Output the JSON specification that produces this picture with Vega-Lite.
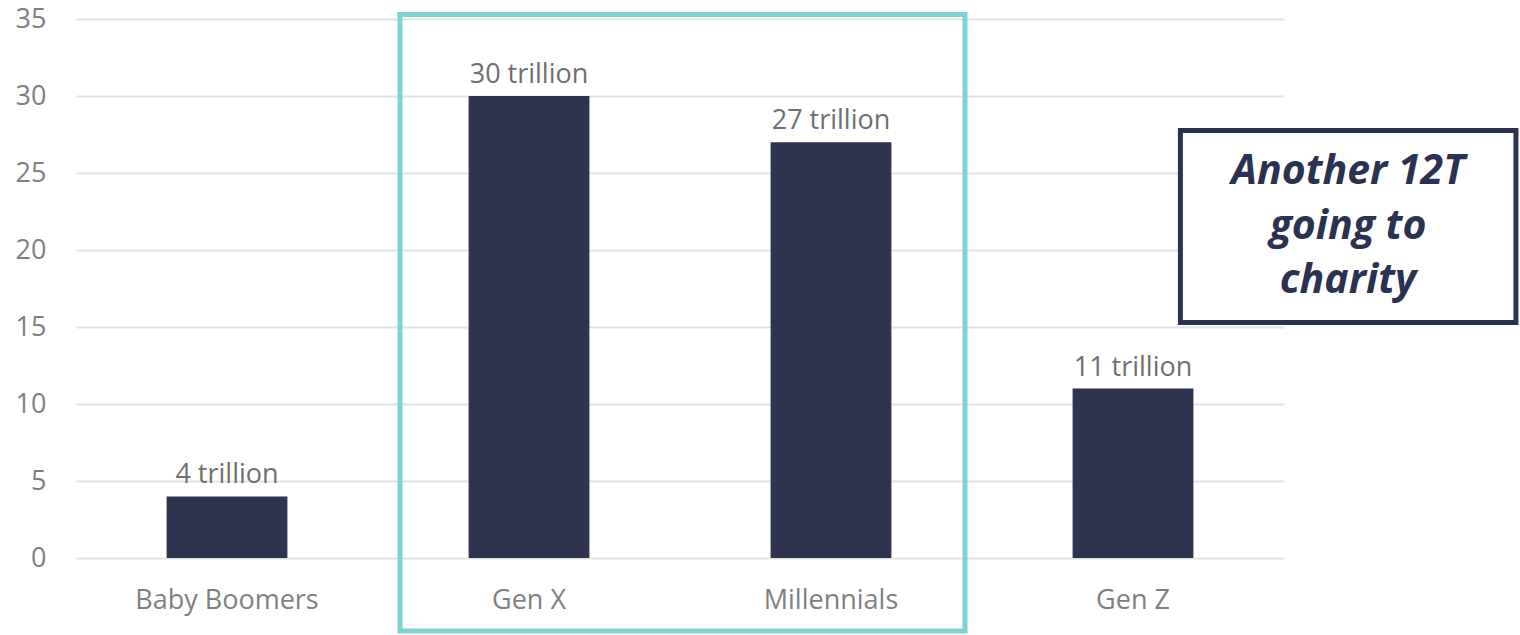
{
  "$schema": "https://vega.github.io/schema/vega-lite/v6.json",
  "width": 1208,
  "height": 539,
  "autosize": "none",
  "padding": {"left": 76, "top": 19, "right": 236, "bottom": 77},
  "background": "white",
  "config": {"view": {"stroke": null}, "font": "Open Sans"},
  "datasets": {
    "bars": [
      {"generation": "Baby Boomers", "value": 4, "label": "4 trillion"},
      {"generation": "Gen X", "value": 30, "label": "30 trillion"},
      {"generation": "Millennials", "value": 27, "label": "27 trillion"},
      {"generation": "Gen Z", "value": 11, "label": "11 trillion"}
    ],
    "boxes": [
      {"name": "highlight", "x1": 1.0728, "x2": 2.9437, "y1": 35.29, "y2": -4.74},
      {"name": "note", "x1": 3.657, "x2": 4.768, "y1": 27.76, "y2": 15.29}
    ],
    "note": [
      {"line": "Another 12T", "x": 4.212, "y": 24.29},
      {"line": "going to", "x": 4.212, "y": 20.71},
      {"line": "charity", "x": 4.212, "y": 17.21}
    ]
  },
  "layer": [
    {
      "data": {"name": "bars"},
      "encoding": {
        "x": {
          "field": "generation", "type": "nominal", "sort": null, "title": null,
          "scale": {"paddingInner": 0.6, "paddingOuter": 0.3},
          "axis": {"domain": false, "ticks": false, "labelAngle": 0, "labelFontSize": 27, "labelColor": "#7f7f7f", "labelPadding": 29, "labelFont": "Open Sans", "labelLimit": 0, "labelOverlap": false}
        },
        "y": {
          "field": "value", "type": "quantitative", "title": null,
          "scale": {"domain": [0, 35], "nice": false},
          "axis": {"values": [0, 5, 10, 15, 20, 25, 30, 35], "domain": false, "ticks": false, "labelFontSize": 27, "labelColor": "#7f7f7f", "labelPadding": 30, "gridColor": "#e3e3e3", "gridWidth": 2, "labelFont": "Open Sans"}
        }
      },
      "layer": [
        {"mark": {"type": "bar", "color": "#2e3350"}},
        {
          "mark": {"type": "text", "baseline": "alphabetic", "dy": -13, "fontSize": 27, "color": "#6f6f6f", "font": "Open Sans"},
          "encoding": {"text": {"field": "label"}}
        }
      ]
    },
    {
      "data": {"name": "boxes"},
      "mark": {"type": "rect", "strokeWidth": 5, "clip": false},
      "encoding": {
        "x": {"field": "x1", "type": "quantitative", "scale": {"domain": [0, 4], "nice": false, "zero": false}, "axis": null},
        "x2": {"field": "x2"},
        "y": {"field": "y1", "type": "quantitative", "scale": {"domain": [0, 35], "nice": false}, "axis": null},
        "y2": {"field": "y2"},
        "stroke": {"field": "name", "type": "nominal", "scale": {"domain": ["highlight", "note"], "range": ["#7dd3d3", "#2b3150"]}, "legend": null},
        "fill": {"field": "name", "type": "nominal", "scale": {"domain": ["highlight", "note"], "range": ["transparent", "white"]}, "legend": null}
      }
    },
    {
      "data": {"name": "note"},
      "mark": {"type": "text", "fontSize": 41, "fontWeight": "bold", "fontStyle": "italic", "color": "#2b3150", "baseline": "alphabetic", "align": "center", "font": "Open Sans"},
      "encoding": {
        "x": {"field": "x", "type": "quantitative", "scale": {"domain": [0, 4], "nice": false, "zero": false}, "axis": null},
        "y": {"field": "y", "type": "quantitative", "scale": {"domain": [0, 35], "nice": false}, "axis": null},
        "text": {"field": "line"}
      }
    }
  ],
  "resolve": {"scale": {"x": "independent", "y": "independent", "stroke": "independent", "fill": "independent"}, "axis": {"x": "independent", "y": "independent"}}
}
